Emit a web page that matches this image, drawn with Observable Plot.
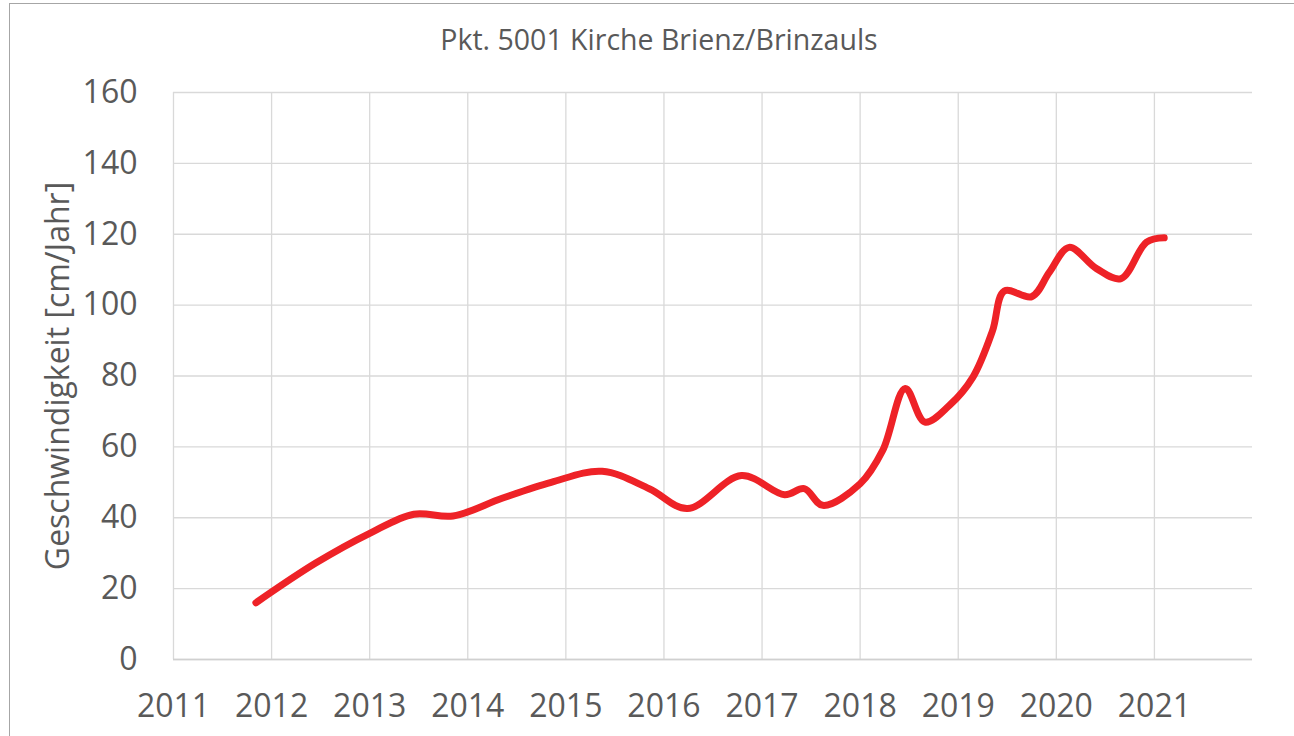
<!DOCTYPE html>
<html><head><meta charset="utf-8">
<script src="https://cdn.jsdelivr.net/npm/d3@7"></script>
<script src="https://cdn.jsdelivr.net/npm/@observablehq/plot@0.6"></script>
<style>
body{margin:0;background:#fff;font-family:"Open Sans",sans-serif;}
#wrap{position:relative;width:1294px;height:736px;overflow:hidden;background:#fff;}
#frame{position:absolute;left:9px;top:3px;width:1400px;height:900px;border-left:1px solid #a6a6a6;border-top:1px solid #a6a6a6;}
#title{position:absolute;top:19.5px;left:0;width:1318px;text-align:center;font-size:28.5px;color:#595959;white-space:nowrap;}
#chart{position:absolute;left:0;top:60px;}
</style></head>
<body>
<div id="wrap"><div id="frame"></div><div id="title"></div><div id="chart"></div></div>
<script>
const title = "Pkt. 5001 Kirche Brienz/Brinzauls";
const yLabel = "Geschwindigkeit [cm/Jahr]";
const xTicks = [2011, 2012, 2013, 2014, 2015, 2016, 2017, 2018, 2019, 2020, 2021];
const yTicks = [0, 20, 40, 60, 80, 100, 120, 140, 160];
const times = [2011.84, 2012.45, 2013.0, 2013.45, 2013.85, 2014.35, 2014.85, 2015.37, 2015.85, 2016.24, 2016.79, 2017.23, 2017.43, 2017.62, 2018.0, 2018.23, 2018.46, 2018.66, 2018.91, 2019.15, 2019.35, 2019.47, 2019.75, 2019.93, 2020.13, 2020.41, 2020.66, 2020.92, 2021.10];
const speeds = [16, 27.2, 35.6, 41, 40.5, 45.5, 50, 53.1, 48.2, 42.6, 51.9, 46.5, 48.2, 43.5, 49.6, 59, 76.5, 67, 71.7, 79.7, 92.8, 104, 102.4, 109.3, 116.3, 110.3, 107.5, 117.8, 119];
const data = times.map((t, i) => ({t, v: speeds[i]}));
document.getElementById("title").textContent = title;
const grid = {stroke: "#d9d9d9", strokeOpacity: 1, strokeWidth: 1.3};
const chart = Plot.plot({
  width: 1294, height: 676,
  marginLeft: 173, marginRight: 42, marginTop: 32, marginBottom: 77,
  style: {fontFamily: '"Open Sans", sans-serif', color: "#595959", background: "transparent"},
  x: {domain: [2011, 2022]},
  y: {domain: [0, 160]},
  marks: [
    Plot.gridX(xTicks, grid),
    Plot.gridY(yTicks, grid),
    Plot.ruleY([0], {stroke: "#d0d0d0", strokeWidth: 1.5}),
    Plot.line(data, {x: "t", y: "v", curve: "catmull-rom", stroke: "#ee2227", strokeWidth: 7}),
    Plot.axisX(xTicks, {tickSize: 0, tickPadding: 35, tickFormat: d => String(d), fontSize: 32, fill: "#595959", label: null}),
    Plot.axisY(yTicks, {tickSize: 0, tickPadding: 36, fontSize: 32, fill: "#595959", label: null}),
    Plot.text([yLabel], {frameAnchor: "left", textAnchor: "middle", rotate: -90, dx: -115, fontSize: 32, fill: "#595959"})
  ]
});
document.getElementById("chart").appendChild(chart);
</script>
</body></html>
